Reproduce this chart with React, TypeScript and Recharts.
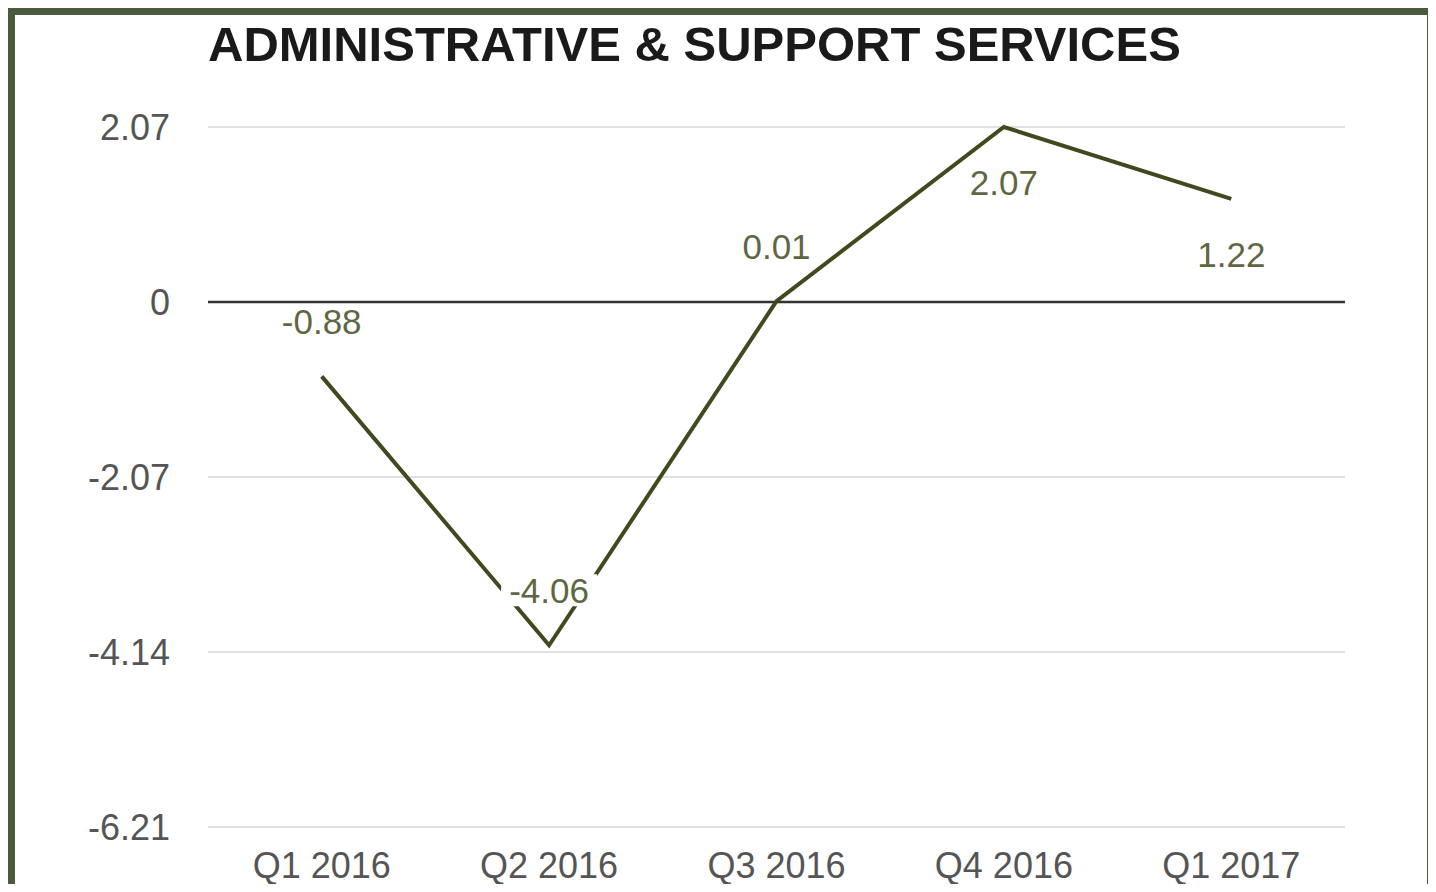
import React from 'react';
import { LineChart, Line, XAxis, YAxis, CartesianGrid, ReferenceLine } from 'recharts';

// quarters and growth values
const quarters = ['Q1 2016', 'Q2 2016', 'Q3 2016', 'Q4 2016', 'Q1 2017'];
const growth = [-0.88, -4.06, 0.01, 2.07, 1.22];
const yTicks = [2.07, 0, -2.07, -4.14, -6.21];

const data = quarters.map((q, i) => ({ quarter: q, value: growth[i] }));

// labels drawn under the point instead of above
const labelsBelow = ['Q4 2016', 'Q1 2017'];

const FONT = '"Liberation Sans", Arial, Helvetica, sans-serif';

const renderLabel = (props: any) => {
  const { x, y, value, index } = props;
  if (x == null || y == null) return null;
  const below = labelsBelow.includes(quarters[index]);
  const cy = below ? y + 56 : y - 55;
  const txt = String(value);
  const w = txt.length * 18 + 6;
  return (
    <g key={`lbl-${index}`}>
      <rect x={x - w / 2} y={cy - 16} width={w} height={32} fill="#ffffff" />
      <text
        x={x}
        y={cy}
        dy="0.355em"
        textAnchor="middle"
        fontSize={35}
        fontFamily={FONT}
        fill="#5e6741"
      >
        {txt}
      </text>
    </g>
  );
};

const App: React.FC = () => {
  return (
    <div style={{ position: 'relative', width: 1436, height: 892, margin: -8, overflow: 'hidden', background: '#e7e7e5' }}>
      <div
        style={{
          position: 'absolute',
          left: 8,
          top: 8,
          width: 1412,
          height: 900,
          border: '7px solid #4b5a3c',
          borderBottom: 'none',
          background: '#ffffff',
        }}
      />
      <div
        style={{
          position: 'absolute',
          left: 208,
          top: 20,
          fontFamily: FONT,
          fontWeight: 'bold',
          fontSize: 49,
          lineHeight: '49px',
          color: '#1a1a1a',
          whiteSpace: 'nowrap',
        }}
      >
        ADMINISTRATIVE &amp; SUPPORT SERVICES
      </div>
      <div style={{ position: 'absolute', left: 0, top: 0 }}>
        <LineChart width={1436} height={892} data={data} margin={{ top: 127, right: 91, bottom: 0, left: 0 }}>
          <CartesianGrid vertical={false} stroke="#e0e0e0" strokeWidth={2} />
          <XAxis
            dataKey="quarter"
            height={65}
            axisLine={false}
            tickLine={false}
            tickSize={0}
            tickMargin={25}
            padding={{ left: 113.7, right: 113.7 }}
            tick={{ fontSize: 36, fill: '#555555', fontFamily: FONT }}
          />
          <YAxis
            width={208}
            domain={[-6.21, 2.07]}
            ticks={yTicks}
            interval={0}
            axisLine={false}
            tickLine={false}
            tickSize={0}
            tickMargin={38}
            tick={{ fontSize: 36, fill: '#555555', fontFamily: FONT }}
          />
          <ReferenceLine y={0} stroke="#333333" strokeWidth={2.5} />
          <Line
            type="linear"
            dataKey="value"
            stroke="#3f4b1f"
            strokeWidth={4}
            dot={false}
            activeDot={false}
            label={renderLabel}
            isAnimationActive={false}
          />
        </LineChart>
      </div>
    </div>
  );
};

export default App;
